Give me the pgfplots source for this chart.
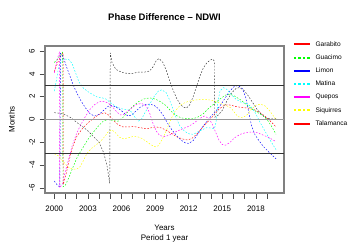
\documentclass[border=0pt]{standalone}
\usepackage{fontspec}
\setmainfont{Liberation Sans}
\usepackage{pgfplots}
\pgfplotsset{compat=1.18}
\definecolor{rred}{HTML}{FF0000}
\definecolor{rgreen}{HTML}{00FF00}
\definecolor{rblue}{HTML}{0000FF}
\definecolor{rcyan}{HTML}{00FFFF}
\definecolor{rmag}{HTML}{FF00FF}
\definecolor{ryel}{HTML}{FFFF00}
\tikzset{
  legsolid/.style={line width=2bp, solid},
  legdash/.style={line width=2bp, dash pattern=on 2.5bp off 2bp},
}
\begin{document}
\begin{tikzpicture}
\begin{axis}[
  name=ax,
  scale only axis, width=239bp, height=147bp,
  xmin=1999.17, xmax=2020.51, ymin=-6.45, ymax=6.45,
  axis line style={black!50, line width=1.1bp},
  xtick={2000,...,2019},
  xticklabels={2000,,,2003,,,2006,,,2009,,,2012,,,2015,,,2018,},
  ytick={-6,-4,-2,0,2,4,6},
  yticklabels={-6,-4,-2,0,2,4,6},
  xtick pos=bottom, ytick pos=left,
  tick align=outside, major tick length=5.5bp,
  tick style={black!70, line width=0.6bp},
  ticklabel style={font=\fontsize{8}{9}\selectfont},
  yticklabel style={rotate=90, anchor=south, inner sep=0pt, yshift=4.5bp},
  xticklabel style={inner sep=0pt, yshift=-7bp},
  title={\bfseries Phase Difference – NDWI},
  title style={at={(axis description cs:0.5,1.1565)}, anchor=center, font=\fontsize{9.5}{11}\selectfont},
  xlabel={Years\\Period 1 year},
  xlabel style={at={(axis description cs:0.5,-0.279)}, anchor=center, align=center, font=\fontsize{8}{10}\selectfont},
  ylabel={Months},
  ylabel style={at={(axis description cs:-0.139,0.5)}, anchor=center, font=\fontsize{8}{9}\selectfont},
  legend style={at={(axis description cs:1.0364,1.035)}, anchor=north west, draw=none, fill=none, inner sep=0pt,
    font=\fontsize{6.6}{7.5}\selectfont, row sep=6.6bp,
    nodes={inner sep=0pt, text height=5bp, text depth=1.6bp},
    /tikz/every odd column/.append style={column sep=5bp}},
  legend cell align=left,
  every axis plot/.append style={line width=0.45bp, dash pattern=on 1.6bp off 1.6bp},
]
% Garabito red
\addplot[rred, legend image code/.code={\draw[rred, legsolid] (0bp,0bp) -- (15.6bp,0bp);}] coordinates {
(2000.0,4.2)(2000.3,5.0)(2000.6,5.6)(2000.78,5.85)(2000.8,-5.7)(2001.0,-5.0)(2001.3,-3.7)(2001.6,-2.5)(2002.0,-1.5)(2002.5,-0.8)(2003.0,-0.3)(2003.5,0.1)(2004.0,0.45)(2004.5,0.6)(2004.9,0.35)(2005.3,-0.1)(2005.7,-0.45)(2006.1,-0.65)(2006.6,-0.65)(2007.1,-0.62)(2007.6,-0.7)(2008.2,-0.82)(2008.7,-0.72)(2009.1,-0.65)(2009.6,-0.75)(2010.0,-0.95)(2010.5,-1.25)(2011.0,-1.55)(2011.5,-1.72)(2011.9,-1.8)(2012.3,-1.65)(2012.7,-1.3)(2013.1,-0.85)(2013.5,-0.4)(2013.9,0.0)(2014.3,0.45)(2014.7,0.9)(2015.1,1.2)(2015.5,1.3)(2015.9,1.22)(2016.3,1.12)(2016.8,1.05)(2017.3,1.0)(2017.8,0.88)(2018.3,0.65)(2018.8,0.3)(2019.3,-0.15)(2019.8,-0.65)};
\addlegendentry{Garabito}
% Guacimo green
\addplot[rgreen, legend image code/.code={\draw[rgreen, legdash] (0bp,0bp) -- (15.6bp,0bp);}] coordinates {
(2000.0,5.0)(2000.3,5.3)(2000.6,5.7)(2000.75,5.9)(2000.78,-5.9)(2001.0,-5.75)(2001.3,-5.1)(2001.7,-4.1)(2002.1,-3.2)(2002.6,-2.4)(2003.0,-1.75)(2003.5,-1.1)(2004.0,-0.5)(2004.4,-0.12)(2004.8,0.0)(2005.3,-0.1)(2005.7,-0.15)(2006.1,0.15)(2006.6,0.7)(2007.0,1.15)(2007.5,1.55)(2008.0,1.8)(2008.5,1.9)(2009.0,1.8)(2009.5,1.55)(2010.0,1.2)(2010.4,0.75)(2010.8,0.4)(2011.3,0.15)(2011.8,0.08)(2012.3,0.05)(2012.8,0.2)(2013.3,0.5)(2013.8,1.0)(2014.3,1.4)(2014.8,1.8)(2015.3,2.15)(2015.7,2.22)(2016.1,2.05)(2016.6,1.75)(2017.1,1.35)(2017.6,0.95)(2018.1,0.65)(2018.6,0.35)(2019.0,0.0)(2019.4,-0.6)(2019.8,-1.3)};
\addlegendentry{Guacimo}
% Limon blue
\addplot[rblue, legend image code/.code={\draw[rblue, legsolid] (0bp,0bp) -- (15.6bp,0bp);}] coordinates {
(2000.0,-5.4)(2000.3,-5.8)(2000.5,-5.9)(2000.55,5.8)(2000.8,5.5)(2001.1,4.6)(2001.4,3.8)(2001.7,3.0)(2002.0,2.35)(2002.4,1.6)(2002.8,1.0)(2003.2,0.5)(2003.6,0.3)(2004.0,0.45)(2004.4,0.8)(2004.8,1.15)(2005.1,1.25)(2005.5,1.1)(2005.9,0.85)(2006.3,0.5)(2006.6,0.3)(2006.9,0.4)(2007.3,0.75)(2007.7,1.1)(2008.1,1.3)(2008.5,1.35)(2008.9,1.25)(2009.3,0.95)(2009.7,0.4)(2010.1,-0.3)(2010.5,-0.9)(2010.9,-1.4)(2011.3,-1.8)(2011.7,-2.05)(2012.0,-2.1)(2012.4,-1.85)(2012.8,-1.3)(2013.2,-0.7)(2013.6,-0.2)(2014.0,0.3)(2014.4,0.7)(2014.8,1.2)(2015.2,1.8)(2015.6,2.4)(2016.0,2.85)(2016.4,3.0)(2016.8,2.7)(2017.1,1.9)(2017.35,0.7)(2017.6,-0.5)(2017.9,-1.3)(2018.3,-1.9)(2018.7,-2.4)(2019.2,-2.9)(2019.8,-3.45)};
\addlegendentry{Limon}
% Matina cyan
\addplot[rcyan, legend image code/.code={\draw[rcyan, legdash] (0bp,0bp) -- (15.6bp,0bp);}] coordinates {
(2000.0,2.5)(2000.2,3.5)(2000.4,4.7)(2000.7,5.2)(2001.0,5.3)(2001.3,5.25)(2001.6,4.9)(2001.9,4.1)(2002.2,3.3)(2002.6,2.75)(2003.0,2.45)(2003.4,2.2)(2003.8,1.98)(2004.2,1.92)(2004.6,1.8)(2005.0,1.5)(2005.4,1.2)(2005.8,1.0)(2006.2,0.9)(2006.6,0.85)(2006.9,0.65)(2007.2,0.2)(2007.5,-0.15)(2007.8,0.05)(2008.1,0.6)(2008.5,1.3)(2008.9,2.0)(2009.3,2.5)(2009.6,2.6)(2010.0,2.35)(2010.3,1.7)(2010.6,0.9)(2010.9,0.1)(2011.2,-0.55)(2011.6,-1.0)(2012.0,-1.25)(2012.4,-1.3)(2012.8,-1.1)(2013.2,-0.9)(2013.6,-0.72)(2014.0,-0.75)(2014.3,-0.8)(2014.45,-0.2)(2014.6,1.5)(2014.8,2.5)(2015.1,2.8)(2015.4,2.65)(2015.8,2.2)(2016.2,1.8)(2016.7,1.5)(2017.2,1.4)(2017.6,1.1)(2018.0,0.5)(2018.4,-0.3)(2018.8,-1.0)(2019.2,-1.7)(2019.8,-2.65)};
\addlegendentry{Matina}
% Quepos magenta
\addplot[rmag, legend image code/.code={\draw[rmag, legsolid] (0bp,0bp) -- (15.6bp,0bp);}] coordinates {
(2000.0,4.1)(2000.15,4.8)(2000.3,5.4)(2000.45,5.85)(2000.48,-6.0)(2000.7,-5.7)(2001.0,-4.5)(2001.3,-3.4)(2001.6,-2.3)(2002.0,-1.2)(2002.4,-0.4)(2002.8,0.3)(2003.2,0.9)(2003.6,1.3)(2004.0,1.55)(2004.4,1.6)(2004.8,1.45)(2005.2,1.1)(2005.6,0.65)(2005.9,0.4)(2006.2,0.45)(2006.6,0.75)(2007.0,1.1)(2007.4,1.35)(2007.8,1.4)(2008.2,1.2)(2008.5,0.6)(2008.8,-0.3)(2009.1,-1.0)(2009.4,-1.4)(2009.8,-1.5)(2010.2,-1.4)(2010.6,-1.2)(2011.0,-1.0)(2011.5,-0.8)(2012.0,-0.6)(2012.5,-0.3)(2013.0,0.1)(2013.4,0.3)(2013.8,0.1)(2014.1,-0.4)(2014.4,-1.1)(2014.7,-1.8)(2015.0,-2.2)(2015.3,-2.25)(2015.7,-2.0)(2016.1,-1.6)(2016.6,-1.3)(2017.1,-1.15)(2017.6,-1.1)(2018.1,-1.15)(2018.6,-1.35)(2019.2,-1.6)(2019.8,-1.95)};
\addlegendentry{Quepos}
% Siquirres yellow
\addplot[ryel, legend image code/.code={\draw[ryel, legdash] (0bp,0bp) -- (15.6bp,0bp);}] coordinates {
(2000.0,-3.0)(2000.4,-3.2)(2000.8,-3.7)(2001.2,-4.15)(2001.6,-4.35)(2002.0,-4.35)(2002.3,-4.15)(2002.6,-3.6)(2002.9,-3.0)(2003.3,-2.55)(2003.7,-2.25)(2004.1,-1.95)(2004.5,-1.5)(2004.8,-1.1)(2005.1,-0.9)(2005.4,-1.1)(2005.8,-1.55)(2006.2,-1.7)(2006.6,-1.6)(2007.0,-1.5)(2007.4,-1.5)(2007.8,-1.65)(2008.2,-1.9)(2008.6,-2.2)(2009.0,-2.4)(2009.3,-2.3)(2009.6,-1.8)(2010.0,-1.0)(2010.4,0.0)(2010.8,0.75)(2011.2,1.2)(2011.6,1.45)(2012.0,1.6)(2012.5,1.7)(2013.0,1.75)(2013.5,1.75)(2014.0,1.7)(2014.5,1.55)(2015.0,1.35)(2015.4,1.2)(2015.8,1.0)(2016.1,0.6)(2016.4,0.25)(2016.8,0.15)(2017.2,0.4)(2017.6,0.9)(2018.0,1.25)(2018.4,1.35)(2018.8,1.2)(2019.2,0.8)(2019.8,0.0)};
\addlegendentry{Siquirres}
% Talamanca (black dashed)
\addplot[black!80, legend image code/.code={\draw[rred, legsolid] (0bp,0bp) -- (15.6bp,0bp);}] coordinates {
(2000.0,0.6)(2000.5,0.55)(2001.0,0.4)(2001.5,0.15)(2002.0,-0.25)(2002.5,-0.6)(2003.0,-1.0)(2003.5,-1.5)(2004.0,-2.0)(2004.4,-2.9)(2004.7,-4.0)(2004.95,-5.6)
(2005.0,5.85)(2005.15,5.0)(2005.5,4.4)(2006.0,4.15)(2006.5,4.05)(2007.0,4.05)(2007.5,4.15)(2008.0,4.15)(2008.5,4.25)(2008.8,4.6)(2009.1,5.15)(2009.35,5.35)(2009.7,5.0)(2010.0,4.3)(2010.3,3.4)(2010.6,2.6)(2010.9,1.9)(2011.2,1.4)(2011.5,1.1)(2011.8,1.0)(2012.1,1.3)(2012.4,2.0)(2012.7,2.9)(2013.0,3.8)(2013.3,4.5)(2013.6,4.95)(2013.9,5.2)(2014.15,5.3)(2014.3,5.1)
(2014.33,0.2)(2014.6,0.35)(2015.0,0.8)(2015.4,1.6)(2015.8,2.3)(2016.2,2.7)(2016.5,2.8)(2016.9,2.6)(2017.3,2.1)(2017.7,1.5)(2018.1,0.9)(2018.5,0.45)(2018.9,0.15)(2019.3,0.05)(2019.8,0.05)};
\addlegendentry{Talamanca}
% reference lines
\addplot[black!80, solid, line width=0.6bp, forget plot] coordinates {(1999.17,3)(2020.51,3)};
\addplot[black!80, solid, line width=0.6bp, forget plot] coordinates {(1999.17,-3)(2020.51,-3)};
\addplot[black!40, solid, line width=1.6bp, forget plot] coordinates {(1999.17,0)(2020.51,0)};
\end{axis}
\pgfresetboundingbox
\path[use as bounding box] ([shift={(-45bp,-57bp)}]ax.south west) rectangle ([shift={(66bp,46bp)}]ax.north east);
\end{tikzpicture}
\end{document}
